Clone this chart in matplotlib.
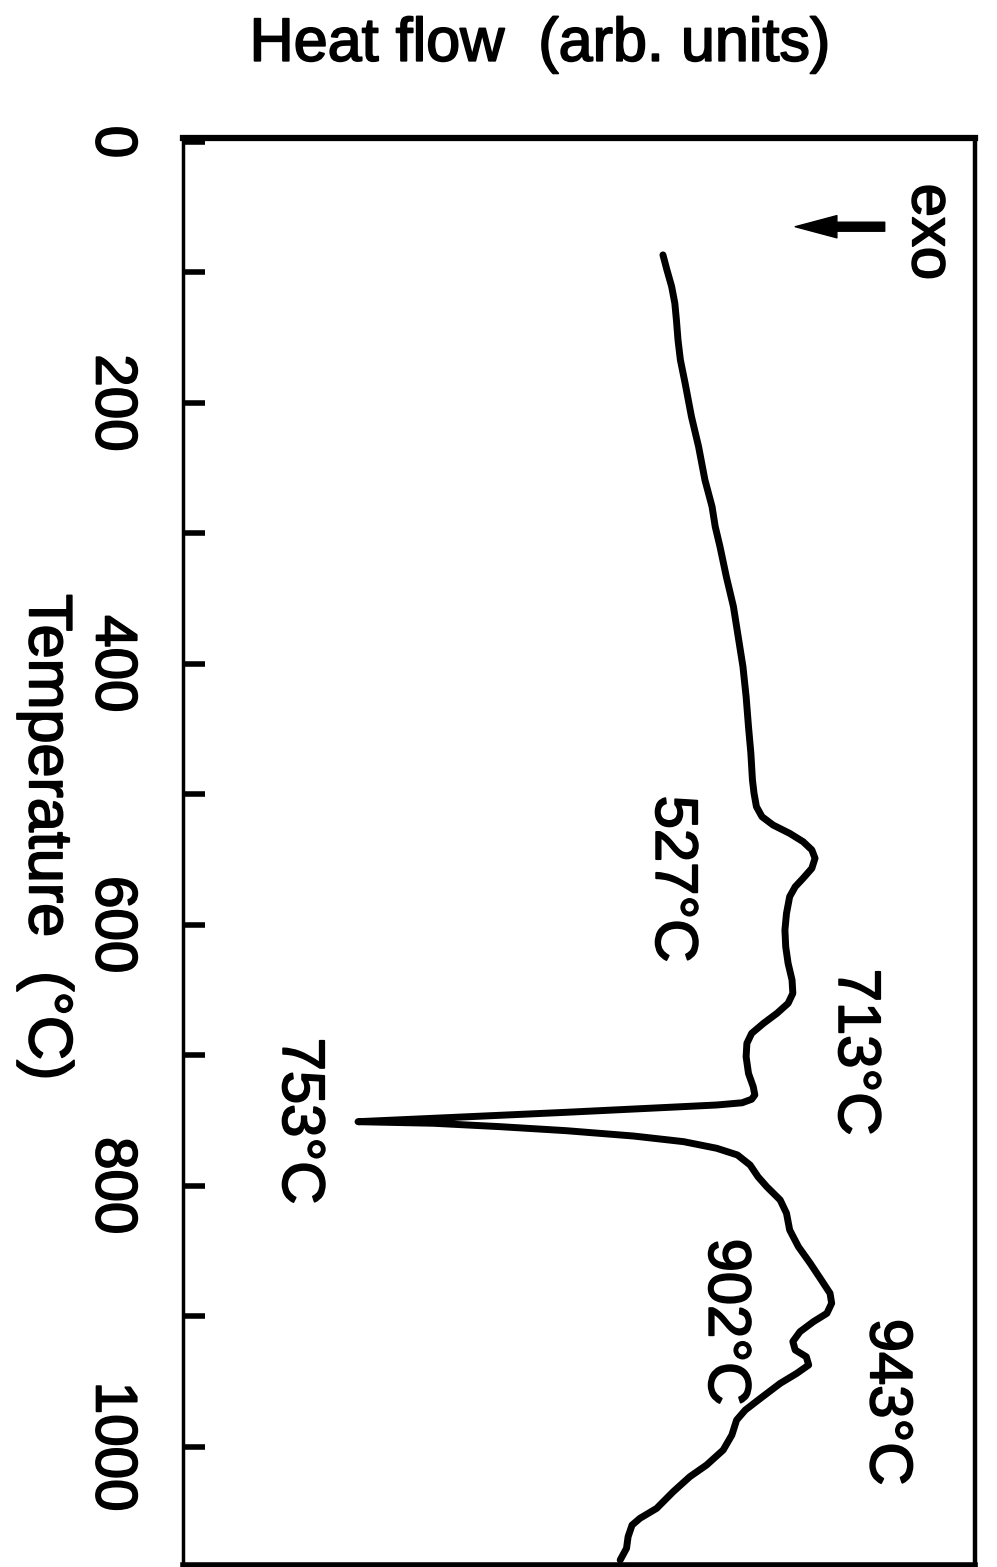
import matplotlib
matplotlib.use("Agg")
import matplotlib.pyplot as plt
import matplotlib.patheffects as pe

plt.rcParams['font.family'] = ['Liberation Sans', 'DejaVu Sans']

# DTA trace: temperature (°C) and heat flow (arb. units)
temperature = [86.6, 98.1, 110.9, 123.7, 136.5, 151.8, 167.1, 185, 210.6, 233.6, 259.1,
               279.6, 294.9, 310.2, 333.2, 356.2, 379.2, 402.2, 425.2, 448.2, 468.6,
               489.1, 499.3, 509.5, 517.2, 523.6, 530, 536.4, 542.7, 549.1, 556.8,
               564.4, 570.9, 578.5, 591.3, 604.1, 616.9, 629.6, 642.4, 652.6, 660.3,
               667.9, 675.6, 683.3, 690.9, 701.2, 714, 724.2, 730.5, 733.8, 736.5,
               738.2, 743.8, 748.4, 751, 752.2, 754.8, 757.9, 762, 766.3, 771.4,
               776.5, 784.2, 793.2, 800.8, 811, 821.2, 834, 846.8, 859.6, 872.4,
               882.6, 890.2, 897.9, 904.3, 912, 919.5, 926, 931.2, 937.5, 943.9,
               951.6, 963.1, 972, 979.7, 991.2, 1002.7, 1014.2, 1023.1, 1034.6,
               1047.4, 1055, 1060.2, 1069.1, 1078, 1087]
heat_flow = [60.6, 61.1, 61.7, 62.1, 62.3, 62.5, 62.8, 63.4, 64.2, 65.1, 65.9,
             66.8, 67.2, 67.8, 68.6, 69.5, 70.1, 70.7, 71.1, 71.4, 71.7,
             71.9, 72.1, 72.4, 73.1, 74.5, 76.6, 78.3, 79.4, 79.8, 79.4,
             78.3, 77.3, 76.6, 76.2, 76.0, 76.1, 76.4, 76.9, 77.0, 76.4,
             75.0, 73.3, 71.8, 71.2, 71.1, 71.4, 72.0, 72.2, 71.8, 70.6,
             67.4, 48.4, 31.6, 22.1, 31.6, 40.0, 48.4, 56.9, 63.2, 67.4,
             70.0, 71.6, 72.6, 73.7, 75.4, 76.2, 76.6, 77.7, 79.2, 80.6,
             81.7, 81.9, 81.3, 79.6, 77.9, 77.0, 77.3, 78.7, 79.0, 77.5,
             75.4, 72.9, 71.0, 69.9, 69.3, 68.2, 66.1, 64.0, 61.9,
             59.8, 57.7, 56.7, 56.2, 56.0, 55.2]

peak_labels = ["527°C", "713°C", "753°C", "902°C", "943°C"]
peak_label_T = [565, 697.6, 750.5, 904.6, 966]
peak_label_hf = [61.7, 84.8, 14.6, 68.4, 88.8]

temp_ticks = [0, 200, 400, 600, 800, 1000]
temp_minor = [100, 300, 500, 700, 900]

heavy = [pe.withStroke(linewidth=1.3, foreground='black')]

fig = plt.figure(figsize=(9.97, 15.67), dpi=100)
ax = fig.add_axes([183/997, 2/1567, (975-183)/997, (1565-138)/1567])

ax.plot(heat_flow, temperature, color='black', lw=5.0, solid_joinstyle='round',
        solid_capstyle='round')

ax.set_xlim(0, 100)
ax.set_ylim(1090.8, -3)

ax.set_xticks([])
ax.set_yticks(temp_ticks)
ax.set_yticks(temp_minor, minor=True)
ax.tick_params(axis='y', which='both', direction='in', length=16, width=4,
               labelsize=42, pad=32)
plt.setp(ax.get_yticklabels(), rotation=-90, va='center', path_effects=heavy)

for side, lw in [('left', 2.5), ('right', 3.2), ('top', 4.5), ('bottom', 4.0)]:
    ax.spines[side].set_linewidth(lw)

ax.set_ylabel("Temperature  (°C)", rotation=-90, fontsize=44, va='center', ha='center',
              path_effects=heavy)
ax.yaxis.set_label_coords(-0.174, 0.51)
ax.xaxis.set_label_position('top')
ax.set_xlabel("Heat flow  (arb. units)", fontsize=44, va='center', ha='center',
              path_effects=heavy)
ax.xaxis.set_label_coords(0.451, 1.065)

for lab, t, h in zip(peak_labels, peak_label_T, peak_label_hf):
    ax.text(h, t, lab, rotation=-90, ha='center', va='center', fontsize=43,
            path_effects=heavy)

ax.text(94.1, 69, "exo", rotation=-90, ha='center', va='center', fontsize=43,
        path_effects=heavy)
ax.annotate('', xy=(77.3, 65), xytext=(88.6, 65),
            arrowprops=dict(facecolor='black', edgecolor='black', width=6.5,
                            headwidth=16, headlength=30, shrink=0))

fig.savefig("out.png", dpi=100)
